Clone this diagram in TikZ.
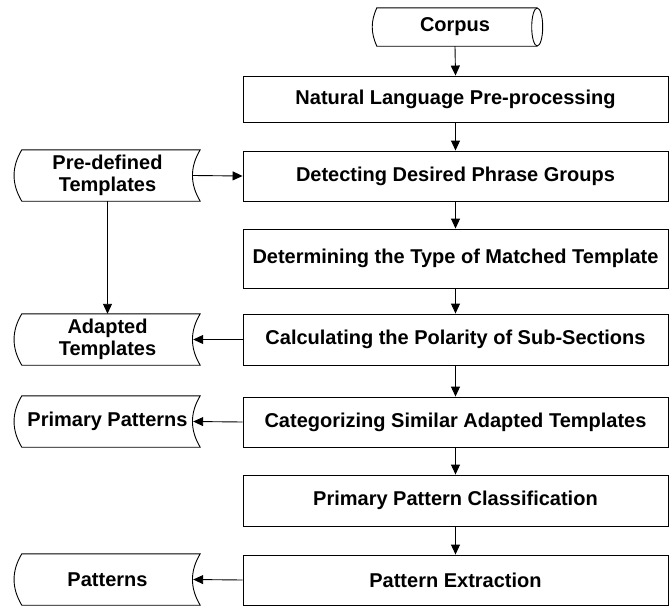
\documentclass[tikz,border=0pt]{standalone}
\usepackage{fontspec}
\setmainfont{Liberation Sans}
\usetikzlibrary{arrows.meta,calc}
\begin{document}
\begin{tikzpicture}[x=1pt,y=-1pt,
  txt/.style={font=\fontsize{20}{22}\selectfont\bfseries, align=center, inner sep=0pt},
  box/.style={txt, draw, line width=0.9pt, rectangle, minimum width=425pt},
  store/.style={txt, rectangle, minimum width=185pt, minimum height=51pt},
  flow/.style={line width=0.9pt, -{Triangle[length=10pt,width=9pt]}},
  outline/.style={line width=0.9pt}]
\useasboundingbox (0,0) rectangle (672,608);

% main process boxes
\node[box, minimum height=46pt] (n1) at (455.5,99) {Natural Language Pre-processing};
\node[box, minimum height=50pt] (n2) at (455.5,176) {Detecting Desired Phrase Groups};
\node[box, minimum height=59pt] (n3) at (455.5,258.5) {Determining the Type of Matched Template};
\node[box, minimum height=51pt] (n4) at (455.5,339.5) {Calculating the Polarity of Sub-Sections};
\node[box, minimum height=50pt] (n5) at (455.5,422) {Categorizing Similar Adapted Templates};
\node[box, minimum height=51pt] (n6) at (455.5,500.5) {Primary Pattern Classification};
\node[box, minimum height=50pt] (n7) at (455.5,580) {Pattern Extraction};

% corpus (direct access storage)
\node[txt, rectangle, minimum width=164pt, minimum height=38pt] (c) at (455,27) {Corpus};
\draw[outline] (c.south east) -- ($(c.south west)+(4,0)$)
  to[bend left=24] ($(c.north west)+(4,0)$) -- (c.north east);
\draw[outline] (c.east) ellipse [x radius=5.5pt, y radius=19pt];

% stored data shapes
\node[store] (pd) at (107.5,175.5) {Pre-defined\\Templates};
\node[store] (ad) at (107.5,339.5) {Adapted\\Templates};
\node[store] (pp) at (107.5,421.5) {Primary Patterns};
\node[store] (pt) at (107.5,579.5) {Patterns};
\foreach \s in {pd,ad,pp,pt}{
  \draw[outline] ($(\s.north west)+(7,0)$) -- (\s.north east)
    to[bend right=31] (\s.south east)
    -- ($(\s.south west)+(7,0)$)
    to[bend left=31] ($(\s.north west)+(7,0)$) -- cycle;
}

% connectors
\draw[flow] (c.south) -- (n1.north);
\draw[flow] (n1) -- (n2);
\draw[flow] (n2) -- (n3);
\draw[flow] (n3) -- (n4);
\draw[flow] (n4) -- (n5);
\draw[flow] (n5) -- (n6);
\draw[flow] (n6) -- (n7);
\draw[flow] ($(pd.east)+(-7,0)$) -- (n2.west);
\draw[flow] (pd.south) -- (ad.north);
\draw[flow] (n4.west) -- ($(ad.east)+(-7,0)$);
\draw[flow] (n5.west) -- ($(pp.east)+(-7,0)$);
\draw[flow] (n7.west) -- ($(pt.east)+(-7,0)$);
\end{tikzpicture}
\end{document}
